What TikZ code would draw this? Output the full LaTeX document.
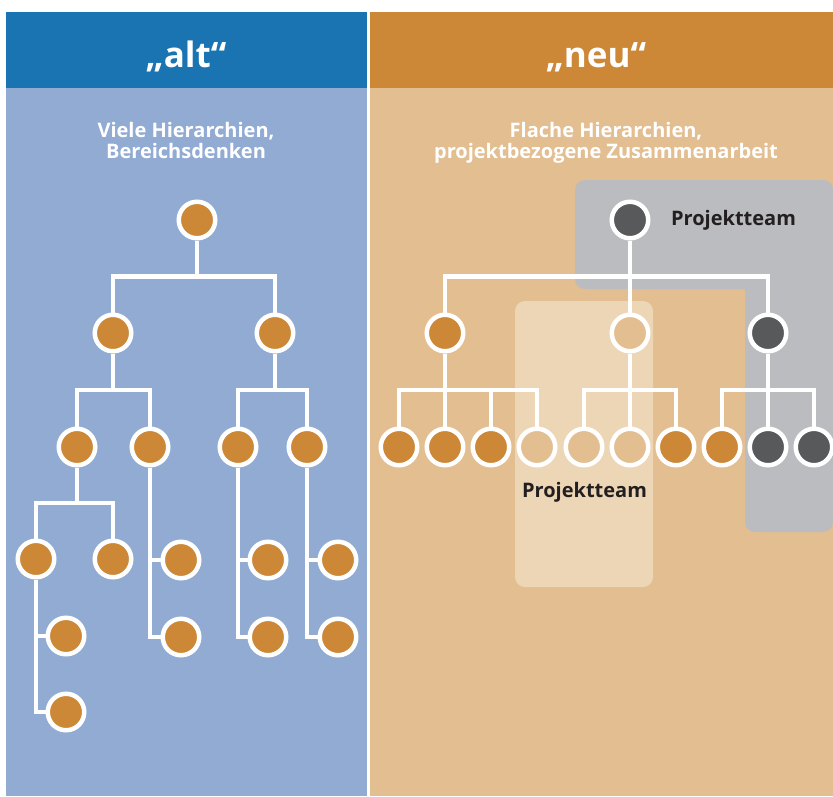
\documentclass[tikz,border=0pt]{standalone}
\usepackage{fontspec}
\setmainfont{Open Sans}
\usetikzlibrary{calc}

\definecolor{headblue}{HTML}{1A74B2}
\definecolor{bodyblue}{HTML}{91ABD3}
\definecolor{headorange}{HTML}{CC8837}
\definecolor{bodyorange}{HTML}{E3BE91}
\definecolor{teamgray}{HTML}{BBBCC0}
\definecolor{teamlight}{HTML}{EDD6B6}
\definecolor{nodeorange}{HTML}{CC8837}
\definecolor{nodedark}{HTML}{58595B}
\definecolor{labeldark}{HTML}{231F20}

\tikzset{
  member/.style={circle, draw=white, line width=4.5pt, minimum size=36.5pt, inner sep=0pt},
  om/.style={member, fill=nodeorange},
  dm/.style={member, fill=nodedark},
  lm/.style={member, fill=bodyorange},
  wire/.style={draw=white, line width=4.8pt},
  headtext/.style={text=white, font=\fontsize{35pt}{40pt}\selectfont\bfseries, anchor=base, inner sep=0pt},
  subtext/.style={text=white, font=\fontsize{20pt}{21.3pt}\selectfont\bfseries, align=center, anchor=north, inner sep=0pt},
  teamtext/.style={text=labeldark, font=\fontsize{20pt}{24pt}\selectfont\bfseries, anchor=base, inner sep=0pt}
}

% parent-to-child link with a horizontal bar halfway down
\newcommand{\treelink}[2]{\draw[wire] (#1) |- ($(#1)!0.5!(#2)$) -| (#2);}
% parent-to-child link running down the side of the parent
\newcommand{\sidelink}[2]{\draw[wire] (#1) |- (#2);}

\begin{document}
\begin{tikzpicture}[x=1pt, y=-1pt]
\useasboundingbox (0,0) rectangle (833,796);
\fill[white] (0,0) rectangle (833,796);

% panels
\fill[headblue] (6,12) rectangle (367,88);
\fill[bodyblue] (6,88) rectangle (367,796);
\fill[headorange] (370,12) rectangle (833,88);
\fill[bodyorange] (370,88) rectangle (833,796);

% project team areas
\fill[teamgray, rounded corners=10pt] (575,180) rectangle (833,289);
\fill[teamgray, rounded corners=10pt] (745,180) rectangle (833,532);
\fill[teamlight, rounded corners=10pt] (515,301) rectangle (653,587);

% headings
\node[headtext] (hAlt) at (186,67) {„alt“};
\node[headtext] (hNeu) at (596,67) {„neu“};
\node[subtext] (sAlt) at (186,122) {Viele Hierarchien,\\Bereichsdenken};
\node[subtext] (sNeu) at (606,122) {Flache Hierarchien,\\projektbezogene Zusammenarbeit};
\node[teamtext] (tTop) at (733.5,225) {Projektteam};
\node[teamtext] (tMid) at (584.5,497) {Projektteam};

% ---- old: deep hierarchy ----
\node[om] (L0)  at (197,220) {};
\node[om] (L1a) at (113,333) {};
\node[om] (L1b) at (275,333) {};
\node[om] (L2a) at (77,447) {};
\node[om] (L2b) at (150,447) {};
\node[om] (L2c) at (238,447) {};
\node[om] (L2d) at (307,447) {};
\node[om] (L3a) at (36,559) {};
\node[om] (L3b) at (113,559) {};
\node[om] (L3c) at (181,560) {};
\node[om] (L3d) at (181,637) {};
\node[om] (L3e) at (268,560) {};
\node[om] (L3f) at (268,637) {};
\node[om] (L3g) at (338,560) {};
\node[om] (L3h) at (338,637) {};
\node[om] (L4a) at (66,636) {};
\node[om] (L4b) at (66,712) {};

\treelink{L0}{L1a}
\treelink{L0}{L1b}
\treelink{L1a}{L2a}
\treelink{L1a}{L2b}
\treelink{L1b}{L2c}
\treelink{L1b}{L2d}
\treelink{L2a}{L3a}
\treelink{L2a}{L3b}
\sidelink{L2b}{L3c}
\sidelink{L2b}{L3d}
\sidelink{L2c}{L3e}
\sidelink{L2c}{L3f}
\sidelink{L2d}{L3g}
\sidelink{L2d}{L3h}
\sidelink{L3a}{L4a}
\sidelink{L3a}{L4b}

% ---- new: flat hierarchy ----
\node[dm] (R0)  at (630,220) {};
\node[om] (R1a) at (445,333) {};
\node[lm] (R1b) at (630,333) {};
\node[dm] (R1c) at (768,333) {};
\node[om] (R2a) at (399,447) {};
\node[om] (R2b) at (445,447) {};
\node[om] (R2c) at (491,447) {};
\node[lm] (R2d) at (537,447) {};
\node[lm] (R2e) at (584,447) {};
\node[lm] (R2f) at (630,447) {};
\node[om] (R2g) at (676,447) {};
\node[om] (R2h) at (722,447) {};
\node[dm] (R2i) at (768,447) {};
\node[dm] (R2j) at (814,447) {};

\treelink{R0}{R1a}
\treelink{R0}{R1b}
\treelink{R0}{R1c}
\treelink{R1a}{R2a}
\treelink{R1a}{R2b}
\treelink{R1a}{R2c}
\treelink{R1a}{R2d}
\treelink{R1b}{R2e}
\treelink{R1b}{R2f}
\treelink{R1b}{R2g}
\treelink{R1c}{R2h}
\treelink{R1c}{R2i}
\treelink{R1c}{R2j}
\end{tikzpicture}
\end{document}
